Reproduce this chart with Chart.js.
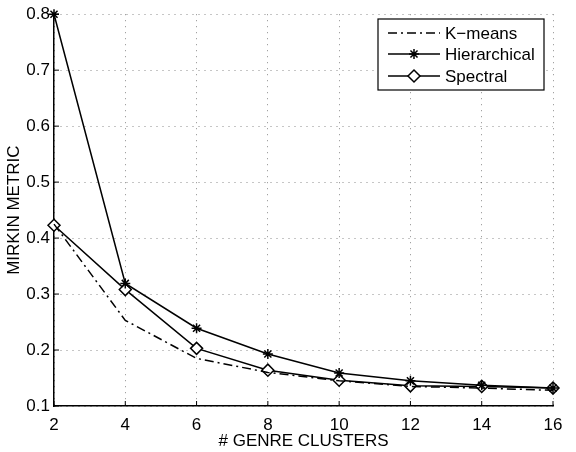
<!DOCTYPE html>
<html>
<head>
<meta charset="utf-8">
<script src="https://cdn.jsdelivr.net/npm/chart.js@4"></script>
<style>
  body { margin: 0; background: #fff; }
  #wrap { width: 576px; height: 452px; }
</style>
</head>
<body>
<div id="wrap"><canvas id="chart"></canvas></div>
<script>
// values
const clusters = [2, 4, 6, 8, 10, 12, 14, 16];
const kmeans = [0.425, 0.253, 0.185, 0.160, 0.145, 0.135, 0.132, 0.128];
const hierarchical = [0.800, 0.319, 0.239, 0.193, 0.159, 0.145, 0.137, 0.132];
const spectral = [0.423, 0.308, 0.203, 0.164, 0.146, 0.136, 0.135, 0.132];
const xTicks = [2, 4, 6, 8, 10, 12, 14, 16];
const yTicks = [0.1, 0.2, 0.3, 0.4, 0.5, 0.6, 0.7, 0.8];

const FONT = 'Liberation Sans, Arial, Helvetica, sans-serif';
const SIZE = 17;

function pts(ys) {
  return clusters.map((x, i) => ({ x: x, y: ys[i] }));
}

// MATLAB style: short ticks pointing into the plot, plus a boxed legend
const extras = {
  id: 'extras',
  afterDraw(chart) {
    const ctx = chart.ctx;
    const xs = chart.scales.x, ys = chart.scales.y;
    const area = chart.chartArea;
    ctx.save();
    ctx.strokeStyle = '#000';
    ctx.lineWidth = 1;
    xTicks.forEach(v => {
      const px = xs.getPixelForValue(v);
      ctx.beginPath();
      ctx.moveTo(px, area.bottom);
      ctx.lineTo(px, area.bottom - 5);
      ctx.stroke();
    });
    yTicks.forEach(v => {
      const py = ys.getPixelForValue(v);
      ctx.beginPath();
      ctx.moveTo(area.left, py);
      ctx.lineTo(area.left + 5, py);
      ctx.stroke();
    });

    // legend
    const bx = 378, by = 19, bw = 166, bh = 71;
    ctx.fillStyle = '#fff';
    ctx.fillRect(bx, by, bw, bh);
    ctx.lineWidth = 1.2;
    ctx.strokeRect(bx, by, bw, bh);
    const rows = [
      { label: 'K\u2212means', dash: [9, 4, 2, 4], style: false, y: 33 },
      { label: 'Hierarchical', dash: [], style: 'star', r: 5, y: 54 },
      { label: 'Spectral', dash: [], style: 'rectRot', r: 6, y: 76 }
    ];
    ctx.font = SIZE + 'px ' + FONT;
    ctx.textBaseline = 'middle';
    rows.forEach(r => {
      ctx.setLineDash(r.dash);
      ctx.lineWidth = 1.5;
      ctx.strokeStyle = '#000';
      ctx.beginPath();
      ctx.moveTo(388, r.y);
      ctx.lineTo(440, r.y);
      ctx.stroke();
      ctx.setLineDash([]);
      if (r.style) {
        ctx.fillStyle = '#fff';
        Chart.helpers.drawPoint(ctx, { pointStyle: r.style, radius: r.r, borderWidth: 1.5, rotation: 0 }, 414, r.y);
      }
      ctx.fillStyle = '#000';
      ctx.fillText(r.label, 445, r.y + 1);
    });
    ctx.restore();
  }
};

new Chart(document.getElementById('chart'), {
  type: 'line',
  data: {
    datasets: [
      {
        label: 'K-means',
        data: pts(kmeans),
        borderColor: '#000',
        borderWidth: 1.5,
        borderDash: [9, 4, 2, 4],
        pointRadius: 0,
        fill: false
      },
      {
        label: 'Hierarchical',
        data: pts(hierarchical),
        borderColor: '#000',
        borderWidth: 1.5,
        pointStyle: 'star',
        pointRadius: 5,
        pointBorderColor: '#000',
        pointBorderWidth: 1.5,
        fill: false
      },
      {
        label: 'Spectral',
        data: pts(spectral),
        borderColor: '#000',
        borderWidth: 1.5,
        pointStyle: 'rectRot',
        pointRadius: 6,
        pointBackgroundColor: '#fff',
        pointBorderColor: '#000',
        pointBorderWidth: 1.5,
        fill: false
      }
    ]
  },
  options: {
    responsive: true,
    maintainAspectRatio: false,
    animation: false,
    clip: false,
    layout: { autoPadding: false, padding: { left: 0, right: 23, top: 12, bottom: 0 } },
    plugins: { legend: { display: false }, tooltip: { enabled: false } },
    scales: {
      x: {
        type: 'linear',
        min: 2,
        max: 16,
        afterBuildTicks: s => { s.ticks = xTicks.map(v => ({ value: v })); },
        afterFit: s => { s.height = 46; },
        ticks: { color: '#000', font: { family: FONT, size: SIZE }, padding: 9 },
        grid: { color: 'rgba(0,0,0,0.45)', drawTicks: false },
        border: { display: true, color: '#000', width: 1.5, dash: [1, 5] },
        title: { display: true, text: '# GENRE CLUSTERS', color: '#000', font: { family: FONT, size: SIZE }, padding: { top: 0, bottom: 0 } }
      },
      y: {
        type: 'linear',
        min: 0.1,
        max: 0.8,
        afterBuildTicks: s => { s.ticks = yTicks.map(v => ({ value: v })); },
        afterFit: s => { s.width = 54; },
        ticks: { color: '#000', font: { family: FONT, size: SIZE }, padding: 4, callback: v => v.toFixed(1) },
        grid: { color: 'rgba(0,0,0,0.45)', drawTicks: false },
        border: { display: true, color: '#000', width: 1.5, dash: [1, 5] },
        title: { display: true, text: 'MIRKIN METRIC', color: '#000', font: { family: FONT, size: SIZE }, padding: { top: 4, bottom: 0 } }
      }
    },
    elements: { line: { tension: 0 } }
  },
  plugins: [extras]
});
</script>
</body>
</html>
